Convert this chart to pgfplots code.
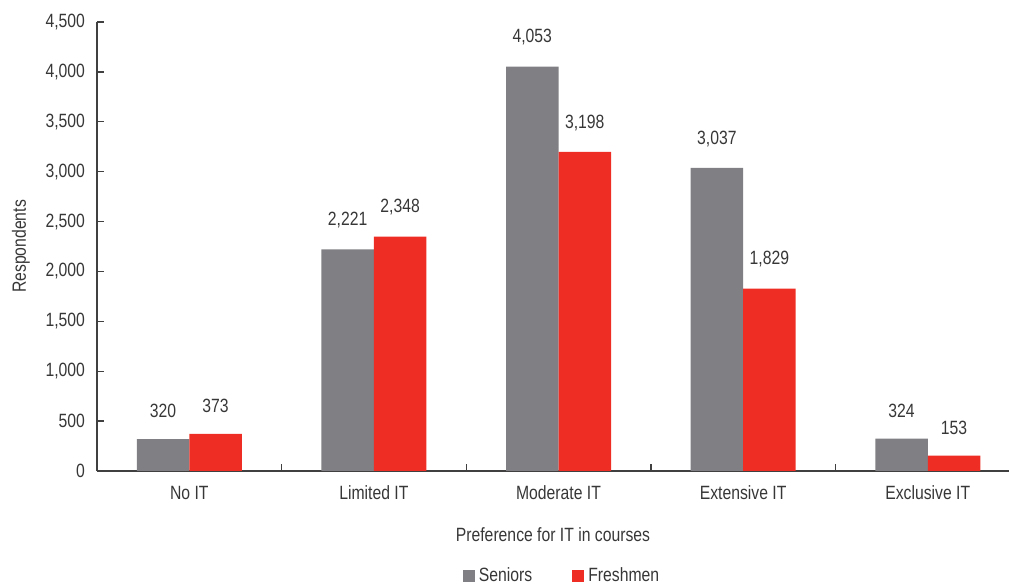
\documentclass[border=0pt]{standalone}
\usepackage{fontspec}
\setmainfont[FakeStretch=0.82]{Liberation Sans}
\usepackage{pgfplots}
\pgfplotsset{compat=1.18}
\definecolor{seniorgray}{RGB}{128,128,132}
\definecolor{freshred}{RGB}{238,46,36}
\definecolor{txt}{RGB}{55,55,55}
\begin{document}
\begin{tikzpicture}[font=\fontsize{9.6}{11}\selectfont]
\begin{axis}[
  scale only axis,
  width=456pt, height=224.5pt,
  ybar=0pt, bar width=26.25pt,
  xmin=-0.5, xmax=4.44,
  ymin=0, ymax=4500,
  ytick={0,500,...,4500},
  axis x line*=bottom, axis y line*=left,
  axis line style={black!75, line width=0.7pt},
  tick style={black!75, line width=0.7pt},
  major tick length=3.5pt,
  tick align=inside,
  xtick={0.5,1.5,2.5,3.5}, xticklabels={},
  extra x ticks={0,1,2,3,4},
  extra x tick labels={No IT,Limited IT,Moderate IT,Extensive IT,Exclusive IT},
  extra x tick style={major tick length=0pt, tick label style={yshift=-4pt}},
  ticklabel style={text=txt},
  /pgf/number format/.cd, 1000 sep={,}, assume math mode=true, /pgfplots/.cd,
  yticklabel style={xshift=-2.5pt},
  xlabel={Preference for IT in courses},
  ylabel={Respondents},
  label style={text=txt},
  xlabel style={yshift=-7pt},
  ylabel style={yshift=1pt},
  nodes near coords,
  nodes near coords style={anchor=south, inner sep=0pt, yshift=10.5pt, text=txt},
  legend style={at={(0.511,-0.2338)}, anchor=center, legend columns=2, draw=none,
    /tikz/every even column/.append style={column sep=18pt}, text=txt},
  legend image code/.code={\fill[#1] (0pt,-3pt) rectangle (6pt,3pt);},
]
\addplot[fill=seniorgray, draw=none] coordinates {(0,320) (1,2221) (2,4053) (3,3037) (4,324)};
\addplot[fill=freshred, draw=none] coordinates {(0,373) (1,2348) (2,3198) (3,1829) (4,153)};
\legend{Seniors,Freshmen}
\coordinate (o) at (rel axis cs:0,0);
\end{axis}
\pgfresetboundingbox
\path (o) ++(-48.5pt,-56.5pt) rectangle ++(504.5pt,292pt);
\end{tikzpicture}
\end{document}
